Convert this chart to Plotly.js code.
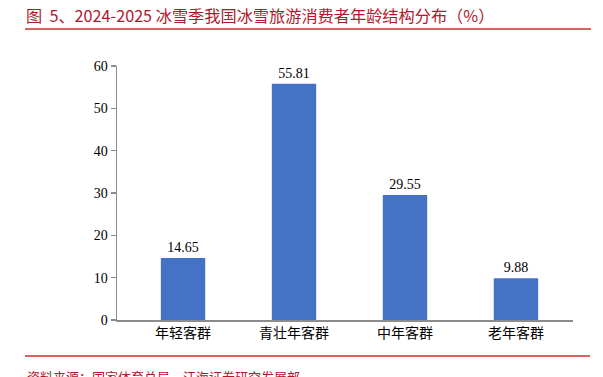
<!DOCTYPE html>
<html>
<head>
<meta charset="utf-8">
<script src="https://cdn.plot.ly/plotly-3.0.1.min.js"></script>
<style>
html,body{margin:0;padding:0;background:#fff;}
#chart{width:603px;height:377px;}
</style>
</head>
<body>
<div id="chart"></div>
<script>
const categories = ["年轻客群", "青壮年客群", "中年客群", "老年客群"];
const shares = [14.65, 55.81, 29.55, 9.88];
const shareLabels = ["14.65", "55.81", "29.55", "9.88"];
const yTicks = [0, 10, 20, 30, 40, 50, 60];

const titleText = "图\u00a0\u00a05、2024-2025 冰雪季我国冰雪旅游消费者年龄结构分布（%）";
const sourceText = "资料来源：国家体育总局，江海证券研究发展部";

const red = "#B0182E";
const serif = "'Liberation Serif', 'Times New Roman', 'Noto Sans CJK SC', serif";
const cjk = "'Noto Sans CJK SC', 'Liberation Serif', serif";

const trace = {
  type: "bar",
  x: categories,
  y: shares,
  text: shareLabels,
  textposition: "outside",
  cliponaxis: false,
  textfont: {family: serif, size: 14, color: "#000"},
  marker: {color: "#4472C4"},
  width: 0.4,
  hoverinfo: "skip"
};

const layout = {
  width: 603,
  height: 377,
  margin: {l: 117, r: 30, t: 66, b: 57},
  paper_bgcolor: "#fff",
  plot_bgcolor: "#fff",
  showlegend: false,
  title: {
    text: titleText,
    x: 26 / 603,
    xanchor: "left",
    xref: "container",
    y: 1 - 16 / 377,
    yref: "container",
    yanchor: "middle",
    font: {family: "'Noto Sans CJK SC', 'Liberation Sans', sans-serif", size: 16.2, color: red}
  },
  xaxis: {
    type: "category",
    range: [-0.595, 3.514],
    showline: true,
    linecolor: "#8c8c8c",
    linewidth: 1.5,
    ticks: "",
    showgrid: false,
    zeroline: false,
    tickfont: {family: cjk, size: 14, color: "#000"},
    fixedrange: true
  },
  yaxis: {
    range: [0, 60],
    tickvals: yTicks,
    ticktext: yTicks.map(String),
    showline: true,
    linecolor: "#8c8c8c",
    linewidth: 1.5,
    ticks: "outside",
    ticklen: 5,
    tickcolor: "#8c8c8c",
    tickwidth: 1.5,
    showgrid: false,
    zeroline: false,
    tickfont: {family: serif, size: 14, color: "#000"},
    fixedrange: true
  },
  shapes: [
    {type: "line", xref: "paper", yref: "paper",
     x0: (25 - 117) / 456, x1: (591 - 117) / 456,
     y0: (320 - 29) / 254, y1: (320 - 29) / 254,
     line: {color: "#D42A2A", width: 1.5}},
    {type: "line", xref: "paper", yref: "paper",
     x0: (25 - 117) / 456, x1: (590 - 117) / 456,
     y0: (320 - 356) / 254, y1: (320 - 356) / 254,
     line: {color: "#D42A2A", width: 1.5}}
  ],
  annotations: [
    {text: sourceText, xref: "paper", yref: "paper",
     x: (25 - 117) / 456, xanchor: "left",
     y: (320 - 365) / 254, yanchor: "top",
     showarrow: false,
     font: {family: cjk, size: 13, color: red}}
  ]
};

Plotly.newPlot("chart", [trace], layout, {displayModeBar: false, staticPlot: true});
</script>
</body>
</html>
